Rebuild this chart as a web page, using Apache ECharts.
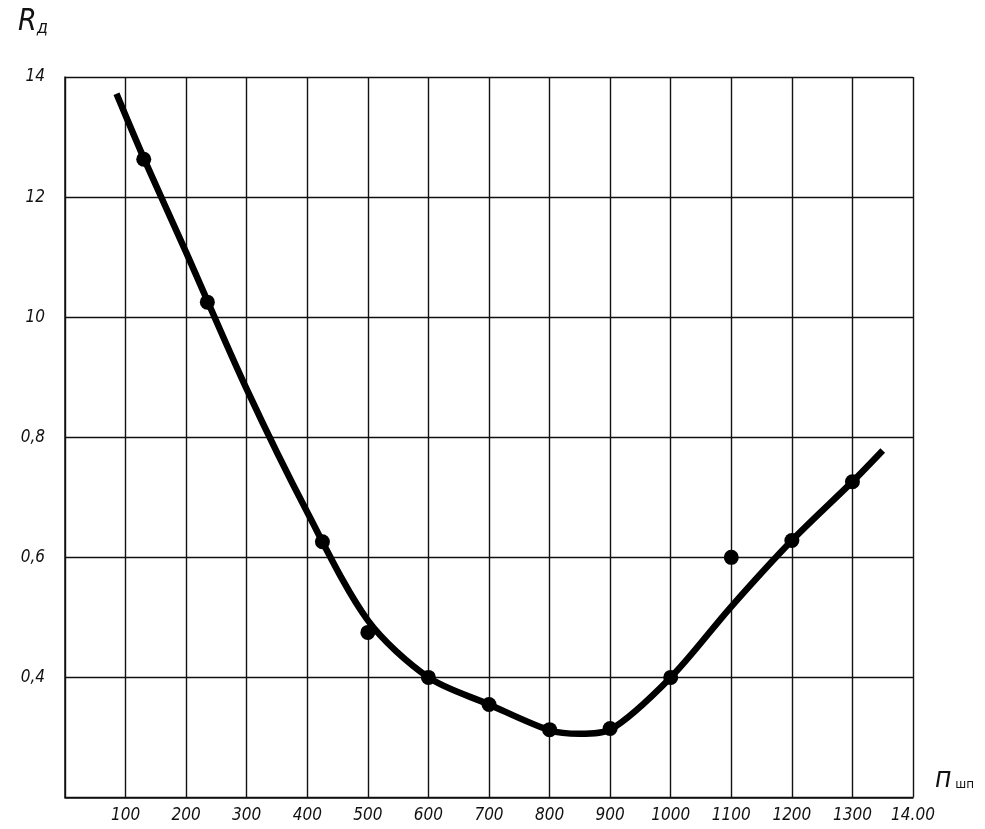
<!DOCTYPE html>
<html>
<head>
<meta charset="utf-8">
<script src="https://cdn.jsdelivr.net/npm/echarts@6/dist/echarts.min.js"></script>
<style>
  html, body { margin: 0; padding: 0; background: #fff; }
  #chart { width: 985px; height: 829px; }
</style>
</head>
<body>
<div id="chart"></div>
<script>
// Spindle speed n (x) and roughness Ra (y)
const measuredN  = [130, 235, 425, 500, 600, 700, 800, 900, 1000, 1100, 1200, 1300];
const measuredRa = [1.263, 1.025, 0.626, 0.475, 0.40, 0.355, 0.313, 0.315, 0.40, 0.60, 0.628, 0.726];

// Fitted trend curve
const curveN  = [85, 130, 200, 300, 400, 500, 600, 700, 800, 850, 900, 1000, 1100, 1200, 1300, 1350];
const curveRa = [1.372, 1.265, 1.108, 0.88, 0.675, 0.495, 0.40, 0.355, 0.312, 0.306, 0.313, 0.40, 0.518, 0.628, 0.726, 0.778];

// Tick labels as printed on the drawing
const xTickValues = [100, 200, 300, 400, 500, 600, 700, 800, 900, 1000, 1100, 1200, 1300, 1400];
const xTickLabels = ['100', '200', '300', '400', '500', '600', '700', '800', '900', '1000', '1100', '1200', '1300', '14.00'];
const yTickValues = [0.4, 0.6, 0.8, 1.0, 1.2, 1.4];
const yTickLabels = ['0,4', '0,6', '0,8', '10', '12', '14'];

const labelFont = '"Liberation Sans Narrow", "DejaVu Sans Condensed", sans-serif';

function lookup(values, labels, v) {
  for (let i = 0; i < values.length; i++) {
    if (Math.abs(values[i] - v) < 1e-6) return labels[i];
  }
  return '';
}

const chart = echarts.init(document.getElementById('chart'), null, { renderer: 'canvas' });

chart.setOption({
  backgroundColor: '#ffffff',
  animation: false,
  grid: { left: 65, top: 77, right: 72, bottom: 31.5, containLabel: false },
  xAxis: {
    type: 'value',
    min: 0,
    max: 1400,
    interval: 100,
    name: '{n|п}{s| шп}',
    nameLocation: 'end',
    nameGap: 22,
    nameTextStyle: {
      verticalAlign: 'bottom',
      padding: [0, 0, 4, 0],
      rich: {
        n: { fontFamily: labelFont, fontStyle: 'italic', fontSize: 28, color: '#111', verticalAlign: 'bottom' },
        s: { fontFamily: 'DejaVu Sans, sans-serif', fontSize: 12, color: '#111', verticalAlign: 'bottom', padding: [0, 0, 3, 0] }
      }
    },
    axisLine: { show: true, lineStyle: { color: '#111', width: 1.5 } },
    axisTick: { show: false },
    splitLine: { show: true, lineStyle: { color: '#111', width: 1.4 } },
    axisLabel: {
      margin: 10,
      fontFamily: labelFont,
      fontStyle: 'italic',
      fontSize: 17,
      color: '#111',
      formatter: v => lookup(xTickValues, xTickLabels, v)
    }
  },
  yAxis: {
    type: 'value',
    min: 0.2,
    max: 1.4,
    interval: 0.2,
    name: '{r|R}{d|д}',
    nameLocation: 'end',
    nameGap: 40,
    nameTextStyle: {
      align: 'right',
      verticalAlign: 'bottom',
      padding: [0, 17, 0, 0],
      rich: {
        r: { fontFamily: labelFont, fontStyle: 'italic', fontSize: 30, color: '#111', verticalAlign: 'bottom' },
        d: { fontFamily: labelFont, fontStyle: 'italic', fontSize: 18, color: '#111', verticalAlign: 'bottom' }
      }
    },
    axisLine: { show: true, lineStyle: { color: '#111', width: 1.5 } },
    axisTick: { show: false },
    splitLine: { show: true, lineStyle: { color: '#111', width: 1.4 } },
    axisLabel: {
      margin: 20,
      fontFamily: labelFont,
      fontStyle: 'italic',
      fontSize: 17,
      color: '#111',
      formatter: v => lookup(yTickValues, yTickLabels, v)
    }
  },
  series: [
    {
      type: 'line',
      data: curveN.map((n, i) => [n, curveRa[i]]),
      smooth: 0.3,
      showSymbol: false,
      lineStyle: { color: '#000', width: 6.5, cap: 'butt' },
      z: 3
    },
    {
      type: 'scatter',
      data: measuredN.map((n, i) => [n, measuredRa[i]]),
      symbol: 'circle',
      symbolSize: 15,
      itemStyle: { color: '#000', opacity: 1 },
      z: 4
    }
  ]
});
</script>
</body>
</html>
